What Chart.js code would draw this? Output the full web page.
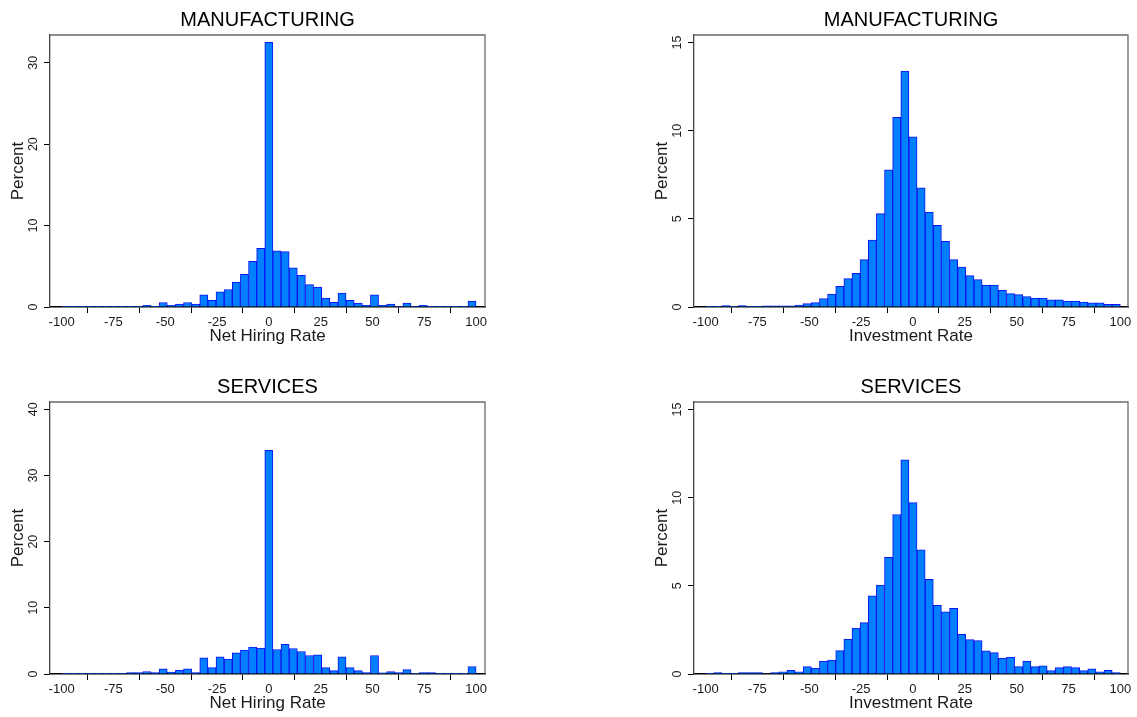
<!DOCTYPE html>
<html>
<head>
<meta charset="utf-8">
<script src="https://cdn.jsdelivr.net/npm/chart.js@4.4.1/dist/chart.umd.min.js"></script>
<style>
  html, body { margin: 0; padding: 0; background: #ffffff; width: 1137px; height: 717px; overflow: hidden; }
  canvas { position: absolute; display: block; }
</style>
</head>
<body>
<canvas id="mfgHire"></canvas>
<canvas id="mfgInv"></canvas>
<canvas id="svcHire"></canvas>
<canvas id="svcInv"></canvas>
<script>
// Histogram bins: 51 equal bins spanning -100 .. 100
const binCount = 51;
const rangeLow = -100;
const rangeHigh = 100;
const binWidth = (rangeHigh - rangeLow) / binCount;
const binCenters = Array.from({ length: binCount }, (_, i) => rangeLow + binWidth * (i + 0.5));

const xTickValues = [-100, -75, -50, -25, 0, 25, 50, 75, 100];
const hiringTicksMfg = [0, 10, 20, 30];
const hiringTicksSvc = [0, 10, 20, 30, 40];
const investTicks = [0, 5, 10, 15];

// Percent of observations per bin
const mfgHiring = [
  0.05, 0.05, 0.05, 0.05, 0.05, 0.05, 0.05, 0.05, 0.05, 0.05,
  0.20, 0.05, 0.55, 0.22, 0.35, 0.55, 0.35, 1.50, 0.82, 1.87,
  2.15, 3.05, 4.00, 5.60, 7.20, 32.5, 6.90, 6.80, 4.80, 3.90,
  2.75, 2.46, 1.10, 0.56, 1.72, 0.82, 0.47, 0.22, 1.50, 0.20,
  0.35, 0.07, 0.47, 0.07, 0.22, 0.05, 0.05, 0.05, 0.05, 0.05,
  0.72
];
const mfgInvestment = [
  0.02, 0.02, 0.08, 0.02, 0.08, 0.02, 0.02, 0.06, 0.06, 0.06,
  0.06, 0.11, 0.19, 0.25, 0.48, 0.73, 1.17, 1.61, 1.91, 2.69,
  3.79, 5.30, 7.78, 10.76, 13.39, 9.66, 6.76, 5.38, 4.64, 3.73,
  2.69, 2.27, 1.78, 1.55, 1.25, 1.25, 0.95, 0.76, 0.70, 0.59,
  0.51, 0.51, 0.40, 0.40, 0.34, 0.34, 0.28, 0.23, 0.23, 0.15,
  0.15
];
const svcHiring = [
  0.05, 0.05, 0.05, 0.05, 0.05, 0.05, 0.05, 0.05, 0.20, 0.20,
  0.38, 0.20, 0.80, 0.28, 0.55, 0.80, 0.20, 2.45, 0.96, 2.60,
  2.27, 3.20, 3.60, 4.05, 3.90, 33.8, 3.70, 4.50, 3.85, 3.40,
  2.80, 2.90, 0.96, 0.50, 2.60, 0.96, 0.50, 0.20, 2.80, 0.17,
  0.35, 0.20, 0.65, 0.05, 0.20, 0.20, 0.05, 0.05, 0.05, 0.05,
  1.13
];
const svcInvestment = [
  0.04, 0.08, 0.04, 0.04, 0.08, 0.08, 0.08, 0.03, 0.08, 0.13,
  0.21, 0.13, 0.42, 0.34, 0.74, 0.79, 1.33, 1.98, 2.61, 2.91,
  4.44, 5.05, 6.62, 9.05, 12.15, 9.72, 7.05, 5.37, 3.89, 3.53,
  3.72, 2.25, 1.95, 1.89, 1.32, 1.21, 0.91, 0.96, 0.42, 0.74,
  0.42, 0.47, 0.19, 0.36, 0.42, 0.36, 0.19, 0.30, 0.13, 0.21,
  0.08
];

const FONT = "'Liberation Sans', Arial, Helvetica, sans-serif";
const BAR_FILL = '#0080ff';
const BAR_EDGE = '#1010f0';

// Plot-region outline (top and right sides) in gray
const frameOutline = {
  id: 'frameOutline',
  afterDatasetsDraw(chart) {
    const { ctx, chartArea: a } = chart;
    ctx.save();
    ctx.strokeStyle = '#6a6a6a';
    ctx.lineWidth = 1.3;
    ctx.beginPath();
    ctx.moveTo(a.left, a.top);
    ctx.lineTo(a.right, a.top);
    ctx.lineTo(a.right, a.bottom);
    ctx.stroke();
    ctx.restore();
  }
};

function makePanel(cfg) {
  const canvas = document.getElementById(cfg.id);
  const axisW = 50, titleH = 35, xAxisH = 50, padRight = 8;
  canvas.width = axisW + cfg.plotW + padRight;
  canvas.height = titleH + cfg.plotH + xAxisH;
  canvas.style.left = cfg.left + 'px';
  canvas.style.top = cfg.top + 'px';

  const points = binCenters.map((x, i) => ({ x: x, y: cfg.values[i] }));

  new Chart(canvas, {
    type: 'bar',
    data: {
      datasets: [{
        data: points,
        backgroundColor: BAR_FILL,
        borderColor: BAR_EDGE,
        borderWidth: 1,
        barPercentage: 1,
        categoryPercentage: 1
      }]
    },
    plugins: [frameOutline],
    options: {
      responsive: false,
      animation: false,
      devicePixelRatio: 1,
      layout: { padding: { left: 0, right: padRight, top: 0, bottom: 0 } },
      plugins: {
        legend: { display: false },
        tooltip: { enabled: false },
        title: {
          display: true,
          text: cfg.title,
          fullSize: false,
          color: '#000',
          font: { family: FONT, size: 20, weight: 'normal', lineHeight: 1.2 },
          padding: { top: 8, bottom: 3 }
        }
      },
      scales: {
        x: {
          type: 'linear',
          min: cfg.xMin,
          max: cfg.xMax,
          offset: false,
          afterBuildTicks: s => { s.ticks = xTickValues.map(v => ({ value: v })); },
          afterFit: s => { s.height = xAxisH; },
          grid: { drawOnChartArea: false, drawTicks: true, tickLength: 6, tickColor: '#000', tickWidth: 1 },
          border: { display: true, color: '#000', width: 1.6 },
          ticks: {
            autoSkip: false, maxRotation: 0, minRotation: 0, padding: 2,
            color: '#1a1a1a', font: { family: FONT, size: 13 },
            callback: v => String(v)
          },
          title: {
            display: true, text: cfg.xTitle, color: '#1a1a1a',
            font: { family: FONT, size: 17, lineHeight: 1.2 },
            padding: { top: 0, bottom: 10 }
          }
        },
        y: {
          type: 'linear',
          min: 0,
          max: cfg.yMax,
          afterBuildTicks: s => { s.ticks = cfg.yTicks.map(v => ({ value: v })); },
          afterFit: s => { s.width = axisW; },
          grid: { drawOnChartArea: false, drawTicks: true, tickLength: 6, tickColor: '#000', tickWidth: 1 },
          border: { display: true, color: '#444', width: 1.3 },
          ticks: {
            minRotation: 90, maxRotation: 90, crossAlign: 'center', padding: 4,
            color: '#1a1a1a', font: { family: FONT, size: 12.5 },
            callback: v => String(v)
          },
          title: {
            display: true, text: 'Percent', color: '#1a1a1a',
            font: { family: FONT, size: 17, lineHeight: 1.2 },
            padding: { top: 8, bottom: 0 }
          }
        }
      }
    }
  });
}

makePanel({ id: 'mfgHire', left: 0, top: 0, plotW: 435, plotH: 272,
  title: 'MANUFACTURING', xTitle: 'Net Hiring Rate', values: mfgHiring,
  yTicks: hiringTicksMfg, yMax: 33.4, xMin: -105.6, xMax: 104.3 });
makePanel({ id: 'mfgInv', left: 644, top: 0, plotW: 434, plotH: 272,
  title: 'MANUFACTURING', xTitle: 'Investment Rate', values: mfgInvestment,
  yTicks: investTicks, yMax: 15.43, xMin: -105.6, xMax: 103.7 });
makePanel({ id: 'svcHire', left: 0, top: 367, plotW: 435, plotH: 272,
  title: 'SERVICES', xTitle: 'Net Hiring Rate', values: svcHiring,
  yTicks: hiringTicksSvc, yMax: 41.1, xMin: -105.6, xMax: 104.3 });
makePanel({ id: 'svcInv', left: 644, top: 367, plotW: 434, plotH: 272,
  title: 'SERVICES', xTitle: 'Investment Rate', values: svcInvestment,
  yTicks: investTicks, yMax: 15.43, xMin: -105.6, xMax: 103.7 });
</script>
</body>
</html>
